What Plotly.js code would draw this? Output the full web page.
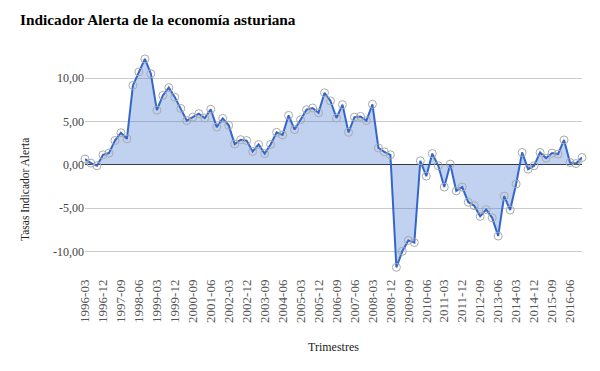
<!DOCTYPE html>
<html>
<head>
<meta charset="utf-8">
<script src="https://cdn.plot.ly/plotly-3.0.1.min.js"></script>
<style>html,body{margin:0;padding:0;background:#fff;}#chart{width:600px;height:371px;}</style>
</head>
<body>
<div id="chart"></div>
<script>
// Quarters 1996-03 .. 2016-12
var months = ['03','06','09','12'];
var quarters = [];
for (var y = 1996; y <= 2016; y++) { for (var m = 0; m < 4; m++) { quarters.push(y + '-' + months[m]); } }

var indicador = [
  0.66, 0.2, -0.1, 1.16, 1.36, 2.8, 3.7, 3.0,
  9.15, 10.7, 12.2, 10.5, 6.3, 8.0, 8.9, 7.8,
  6.5, 5.1, 5.5, 5.9, 5.4, 6.4, 4.35, 5.35,
  4.55, 2.4, 2.9, 2.8, 1.55, 2.35, 1.3, 2.35,
  3.75, 3.45, 5.7, 4.07, 5.2, 6.36, 6.55, 6.0,
  8.3, 7.36, 5.4, 6.94, 3.75, 5.5, 5.58, 5.1,
  6.98, 1.95, 1.5, 1.16, -11.8, -9.95, -8.7, -8.95,
  0.47, -1.3, 1.3, -0.1, -2.56, 0.08, -3.0, -2.56,
  -4.3, -4.7, -5.93, -5.15, -6.1, -8.2, -3.6, -5.2,
  -2.2, 1.43, -0.5, -0.1, 1.43, 0.78, 1.36, 1.24,
  2.87, 0.27, 0.15, 0.85
];

var xTickLabels = ['1996-03','1996-12','1997-09','1998-06','1999-03','1999-12','2000-09','2001-06',
  '2002-03','2002-12','2003-09','2004-06','2005-03','2005-12','2006-09','2007-06','2008-03',
  '2008-12','2009-09','2010-06','2011-03','2011-12','2012-09','2013-06','2014-03','2014-12',
  '2015-09','2016-06'];
var yTickVals = [-10, -5, 0, 5, 10];
var yTickText = ['-10,00', '-5,00', '0,00', '5,00', '10,00'];

var trace = {
  x: quarters,
  y: indicador,
  type: 'scatter',
  mode: 'lines+markers',
  fill: 'tozeroy',
  fillcolor: 'rgba(51,102,204,0.3)',
  line: {color: '#3366cc', width: 2},
  marker: {symbol: 'circle-open', size: 8, color: '#aaaaaa', line: {width: 1, color: '#aaaaaa'}},
  cliponaxis: false,
  hoverinfo: 'x+y'
};

var serif = 'Liberation Serif, Times New Roman, serif';
var layout = {
  width: 600, height: 371,
  margin: {l: 85, r: 18, t: 52, b: 95},
  paper_bgcolor: '#fff', plot_bgcolor: '#fff',
  showlegend: false,
  font: {family: serif, color: '#444'},
  title: {text: '<b>Indicador Alerta de la economía asturiana</b>', x: 20/600, xref: 'container', xanchor: 'left',
          y: 1 - 20/371, yref: 'container', yanchor: 'middle', font: {family: serif, size: 15.3, color: '#000'}},
  xaxis: {
    type: 'category',
    range: [0, quarters.length - 1],
    tickmode: 'array', tickvals: xTickLabels, ticktext: xTickLabels,
    tickangle: -90, tickfont: {family: serif, size: 13, color: '#555'},
    showgrid: false, zeroline: false, showline: false, ticks: '',
    title: {text: 'Trimestres', font: {family: serif, size: 12, color: '#222'}, standoff: 20}
  },
  yaxis: {
    range: [-12.8, 13],
    tickmode: 'array', tickvals: yTickVals, ticktext: yTickText,
    tickfont: {family: serif, size: 12, color: '#444'},
    showgrid: true, gridcolor: '#cccccc', gridwidth: 1,
    zeroline: true, zerolinecolor: '#333333', zerolinewidth: 1,
    showline: false, ticks: ''
  },
  annotations: [{
    text: 'Tasas Indicador Alerta', textangle: -90, showarrow: false,
    xref: 'paper', yref: 'paper', x: (25 - 85) / 497, y: (276 - 190) / 224,
    xanchor: 'center', yanchor: 'middle',
    font: {family: serif, size: 11.5, color: '#222'}
  }]
};

Plotly.newPlot('chart', [trace], layout, {displayModeBar: false, staticPlot: true});
</script>
</body>
</html>
